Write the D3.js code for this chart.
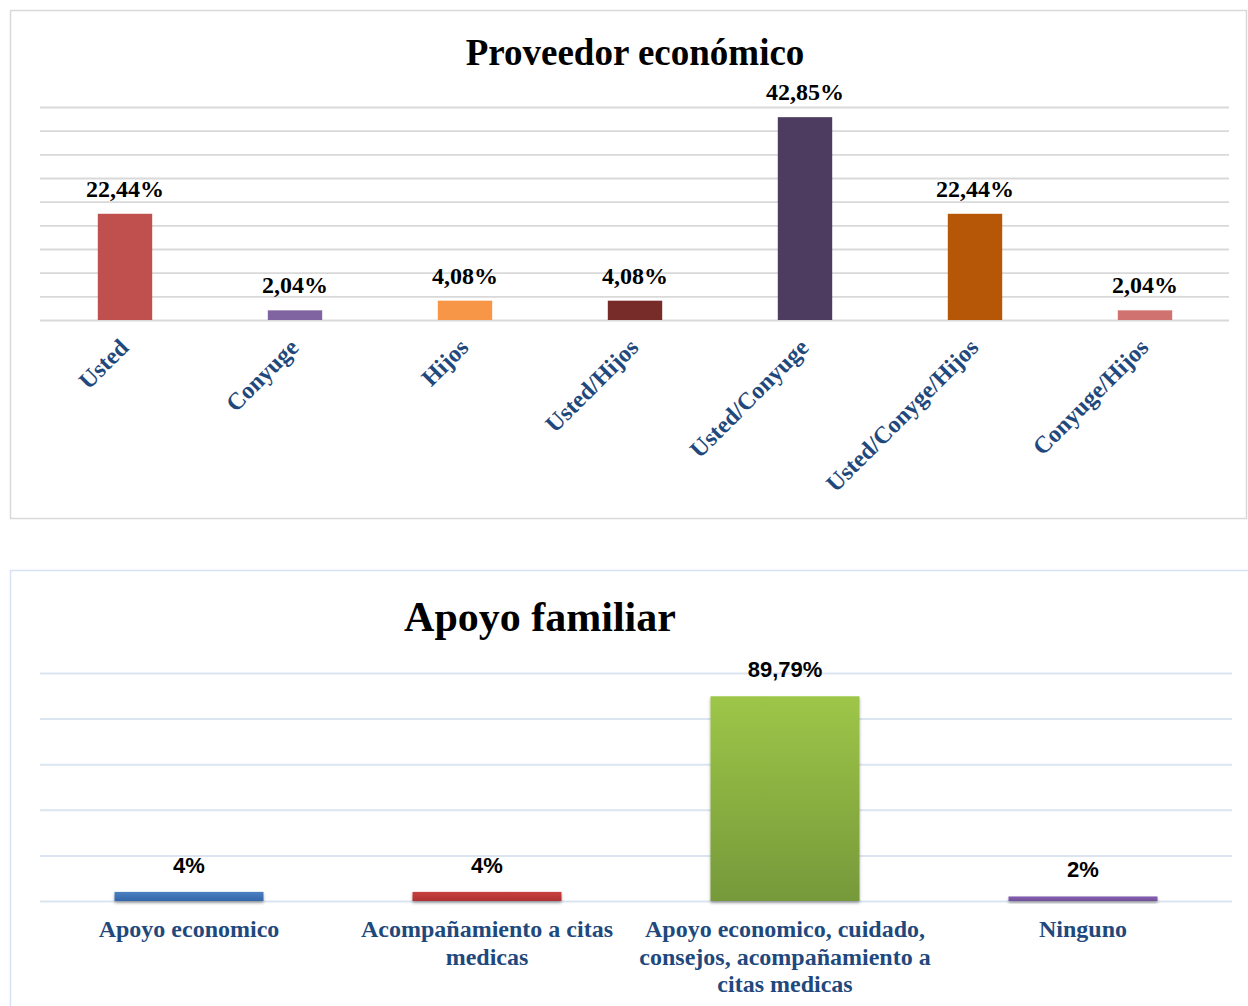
<!DOCTYPE html>
<html lang="es">
<head>
<meta charset="utf-8">
<script src="https://d3js.org/d3.v7.min.js"></script>
<style>
  body { margin: 0; background: #fff; }
  svg { display: block; }
  .title { font-family: "Liberation Serif", "Times New Roman", serif; font-weight: bold; fill: #000; }
  .val-serif { font-family: "Liberation Serif", "Times New Roman", serif; font-weight: bold; font-size: 24px; fill: #000; }
  .val-sans { font-family: "Liberation Sans", Arial, sans-serif; font-weight: bold; font-size: 22px; fill: #000; }
  .xlab { font-family: "Liberation Serif", "Times New Roman", serif; font-weight: bold; font-size: 24px; fill: #1f497d; }
  .grid .domain { display: none; }
</style>
</head>
<body>
<svg id="chart" width="1248" height="1006"></svg>
<script>
// ---- data: Proveedor económico
var provCategories = ['Usted', 'Conyuge', 'Hijos', 'Usted/Hijos', 'Usted/Conyuge', 'Usted/Conyge/Hijos', 'Conyuge/Hijos'];
var provValues = [22.44, 2.04, 4.08, 4.08, 42.85, 22.44, 2.04];
var provLabels = ['22,44%', '2,04%', '4,08%', '4,08%', '42,85%', '22,44%', '2,04%'];
var provTicks = [0, 5, 10, 15, 20, 25, 30, 35, 40, 45];

// ---- data: Apoyo familiar
var apoyoCategories = ['Apoyo economico', 'Acompañamiento a citas medicas',
  'Apoyo economico, cuidado, consejos, acompañamiento a citas medicas', 'Ninguno'];
var apoyoValues = [4, 4, 89.79, 2];
var apoyoLabels = ['4%', '4%', '89,79%', '2%'];
var apoyoTicks = [0, 20, 40, 60, 80, 100];

var provColors = ['#c0504d', '#8064a2', '#f79646', '#772c2a', '#4d3b60', '#b65708', '#cf7270'];
var apoyoColors = [['#4a80c2', '#3467a9'], ['#c8403e', '#ae3230'], ['#9dc648', '#76993a'], ['#8460ae', '#74509c']];

var svg = d3.select('#chart');

// ================= chart 1 =================
var g1 = svg.append('g');

g1.append('rect')
  .attr('x', 10.5).attr('y', 10.5)
  .attr('width', 1236).attr('height', 508)
  .attr('fill', 'none').attr('stroke', '#d9d9d9').attr('stroke-width', 1.5);

var x1 = d3.scaleBand()
  .domain(provCategories)
  .range([40, 1230])
  .paddingInner(0.68)
  .paddingOuter(0.34);

var y1 = d3.scaleLinear()
  .domain([0, 45])
  .range([320, 107]);

g1.append('g')
  .attr('class', 'grid')
  .attr('transform', 'translate(40,0)')
  .call(d3.axisLeft(y1).tickValues(provTicks).tickSize(-1189).tickFormat(''))
  .selectAll('line')
  .attr('stroke', '#d9d9d9')
  .attr('stroke-width', 1.8);

g1.append('text')
  .attr('class', 'title')
  .attr('x', 635).attr('y', 65)
  .attr('text-anchor', 'middle')
  .style('font-size', '37px')
  .text('Proveedor económico');

g1.selectAll('.bar1')
  .data(provValues)
  .enter()
  .append('rect')
  .attr('class', 'bar1')
  .attr('x', function(d, i) { return x1(provCategories[i]); })
  .attr('width', x1.bandwidth())
  .attr('y', function(d) { return y1(d); })
  .attr('height', function(d) { return y1(0) - y1(d); })
  .attr('fill', function(d, i) { return provColors[i]; });

g1.selectAll('.val1')
  .data(provValues)
  .enter()
  .append('text')
  .attr('class', 'val-serif')
  .attr('x', function(d, i) { return x1(provCategories[i]) + x1.bandwidth() / 2; })
  .attr('y', function(d) { return y1(d) - 17; })
  .attr('text-anchor', 'middle')
  .text(function(d, i) { return provLabels[i]; });

g1.selectAll('.xl1')
  .data(provCategories)
  .enter()
  .append('text')
  .attr('class', 'xlab')
  .attr('text-anchor', 'end')
  .attr('dy', '0.35em')
  .attr('transform', function(d) {
    return 'translate(' + (x1(d) + x1.bandwidth() / 2 - 1) + ',343) rotate(-45)';
  })
  .text(function(d) { return d; });

// ================= chart 2 =================
var g2 = svg.append('g');

var defs = svg.append('defs');
var shadow = defs.append('filter').attr('id', 'shadow')
  .attr('x', '-10%').attr('y', '-10%').attr('width', '120%').attr('height', '160%');
shadow.append('feDropShadow')
  .attr('dx', 0).attr('dy', 2).attr('stdDeviation', 1.5)
  .attr('flood-color', '#000').attr('flood-opacity', 0.35);

apoyoColors.forEach(function(c, i) {
  var lg = defs.append('linearGradient').attr('id', 'grad' + i)
    .attr('x1', 0).attr('y1', 0).attr('x2', 0).attr('y2', 1);
  lg.append('stop').attr('offset', '0%').attr('stop-color', c[0]);
  lg.append('stop').attr('offset', '100%').attr('stop-color', c[1]);
});

g2.append('rect')
  .attr('x', 10.5).attr('y', 570.5)
  .attr('width', 1240).attr('height', 440)
  .attr('fill', 'none').attr('stroke', '#d6e2f1').attr('stroke-width', 1.5);

var x2 = d3.scaleBand()
  .domain(apoyoCategories)
  .range([40, 1232])
  .paddingInner(0.5)
  .paddingOuter(0.25);

var y2 = d3.scaleLinear()
  .domain([0, 100])
  .range([901, 673]);

g2.append('g')
  .attr('class', 'grid')
  .attr('transform', 'translate(40,0)')
  .call(d3.axisLeft(y2).tickValues(apoyoTicks).tickSize(-1192).tickFormat(''))
  .selectAll('line')
  .attr('stroke', '#dbe5f1')
  .attr('stroke-width', 2);

g2.append('text')
  .attr('class', 'title')
  .attr('x', 540).attr('y', 631)
  .attr('text-anchor', 'middle')
  .style('font-size', '42px')
  .text('Apoyo familiar');

g2.selectAll('.bar2')
  .data(apoyoValues)
  .enter()
  .append('rect')
  .attr('class', 'bar2')
  .attr('x', function(d, i) { return x2(apoyoCategories[i]); })
  .attr('width', x2.bandwidth())
  .attr('y', function(d) { return y2(d); })
  .attr('height', function(d) { return y2(0) - y2(d); })
  .attr('fill', function(d, i) { return 'url(#grad' + i + ')'; })
  .attr('filter', 'url(#shadow)');

g2.selectAll('.val2')
  .data(apoyoValues)
  .enter()
  .append('text')
  .attr('class', 'val-sans')
  .attr('x', function(d, i) { return x2(apoyoCategories[i]) + x2.bandwidth() / 2; })
  .attr('y', function(d) { return y2(d) - 19; })
  .attr('text-anchor', 'middle')
  .text(function(d, i) { return apoyoLabels[i]; });

var xl2 = g2.selectAll('.xl2')
  .data(apoyoCategories)
  .enter()
  .append('text')
  .attr('class', 'xlab')
  .attr('text-anchor', 'middle')
  .attr('x', function(d) { return x2(d) + x2.bandwidth() / 2; })
  .attr('y', 937)
  .text(function(d) { return d; });

// wrap the category labels to the band step
xl2.each(function(d) {
  var text = d3.select(this),
      words = d.split(/\s+/),
      cx = text.attr('x'),
      maxW = x2.step() - 2,
      line = [];
  text.text(null);
  var tspan = text.append('tspan').attr('x', cx).attr('dy', 0);
  words.forEach(function(w) {
    line.push(w);
    tspan.text(line.join(' '));
    if (tspan.node().getComputedTextLength() > maxW && line.length > 1) {
      line.pop();
      tspan.text(line.join(' '));
      line = [w];
      tspan = text.append('tspan').attr('x', cx).attr('dy', 27.5).text(w);
    }
  });
});
</script>
</body>
</html>
